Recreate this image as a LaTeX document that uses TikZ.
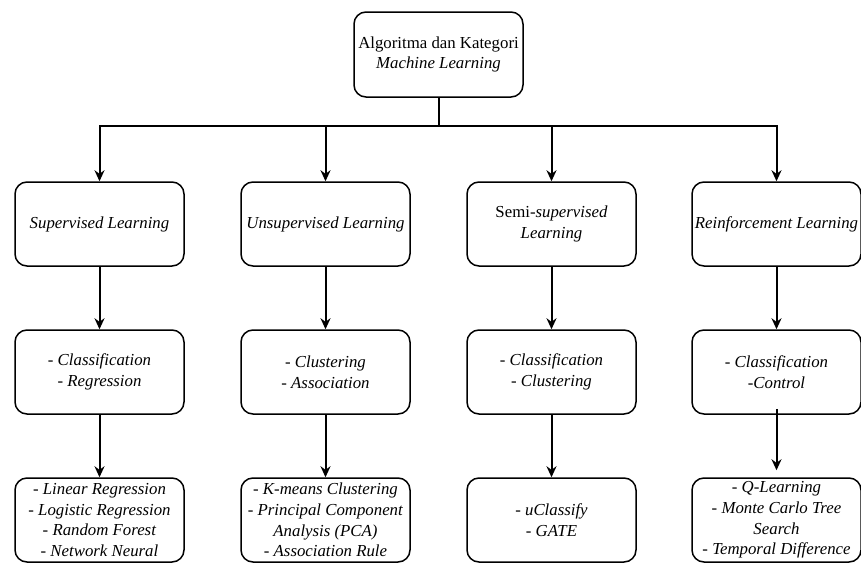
\documentclass[tikz,border=0pt]{standalone}
\usepackage{fontspec}
\setmainfont{Liberation Serif}
\usepackage{xcolor}
\usepackage{tikz}
\usetikzlibrary{arrows.meta}

\begin{document}
\begin{tikzpicture}[x=1pt,y=-1pt]
				\useasboundingbox (0,0) rectangle (861,562);
				\begin{scope}[every node/.style={rectangle,rounded corners=12pt,draw,line width=1.5pt,
				              minimum width=169pt,minimum height=84pt,inner sep=0pt,align=center,
				              font=\fontsize{16.8}{20.8}\selectfont}]
				    \node (top) at (438.5,54.5) [minimum height=85pt] {Algoritma dan Kategori\\\textit{Machine Learning}};

				    \node (sup) at (99.5,224) {\textit{Supervised Learning}};
				    \node (uns) at (325.5,224) {\textit{Unsupervised Learning}};
				    \node (semi) at (551.5,224) {Semi-\textit{supervised}\\\textit{Learning}};
				    \node (rein) at (776.5,224) {\textit{Reinforcement Learning}};

				    \node (supcat) at (99.5,372) {- \textit{Classification}\\- \textit{Regression}};
				    \node (unscat) at (325.5,372) {- \textit{Clustering}\\- \textit{Association}};
				    \node (semicat) at (551.5,372) {- \textit{Classification}\\- \textit{Clustering}};
				    \node (reincat) at (776.5,372) {- \textit{Classification}\\-\textit{Control}};

				    \node (supalg) at (99.5,520) {- \textit{Linear Regression}\\- \textit{Logistic Regression}\\- \textit{Random Forest}\\- \textit{Network Neural}};
				    \node (unsalg) at (325.5,520) {- \textit{K-means Clustering}\\- \textit{Principal Component}\\\textit{Analysis (PCA)}\\- \textit{Association Rule}};
				    \node (semialg) at (551.5,520) {- \textit{uClassify}\\- \textit{GATE}};
				    \node (reinalg) at (776.5,520) {- \textit{Q-Learning}\\- \textit{Monte Carlo Tree}\\\textit{Search}\\- \textit{Temporal Difference}};
				\end{scope}

				\begin{scope}[>={Stealth[black,length=11pt,width=10pt]},
				              every edge/.style={draw=black,line width=2pt}]
				    \draw [line width=2pt] (top.south) -- ++(0,28) coordinate (bus);
				    \draw [->,line width=2pt] (bus) -| (sup.north);
				    \draw [->,line width=2pt] (bus) -| (uns.north);
				    \draw [->,line width=2pt] (bus) -| (semi.north);
				    \draw [->,line width=2pt] (bus) -| (rein.north);

				    \path [->] (sup) edge (supcat);
				    \path [->] (uns) edge (unscat);
				    \path [->] (semi) edge (semicat);
				    \path [->] (rein) edge (reincat);

				    \path [->] (supcat) edge (supalg);
				    \path [->] (unscat) edge (unsalg);
				    \path [->] (semicat) edge (semialg);
				    \path [->] (reincat) edge [shorten <=-6pt, shorten >=7pt] (reinalg);
				\end{scope}
\end{tikzpicture}
\end{document}
